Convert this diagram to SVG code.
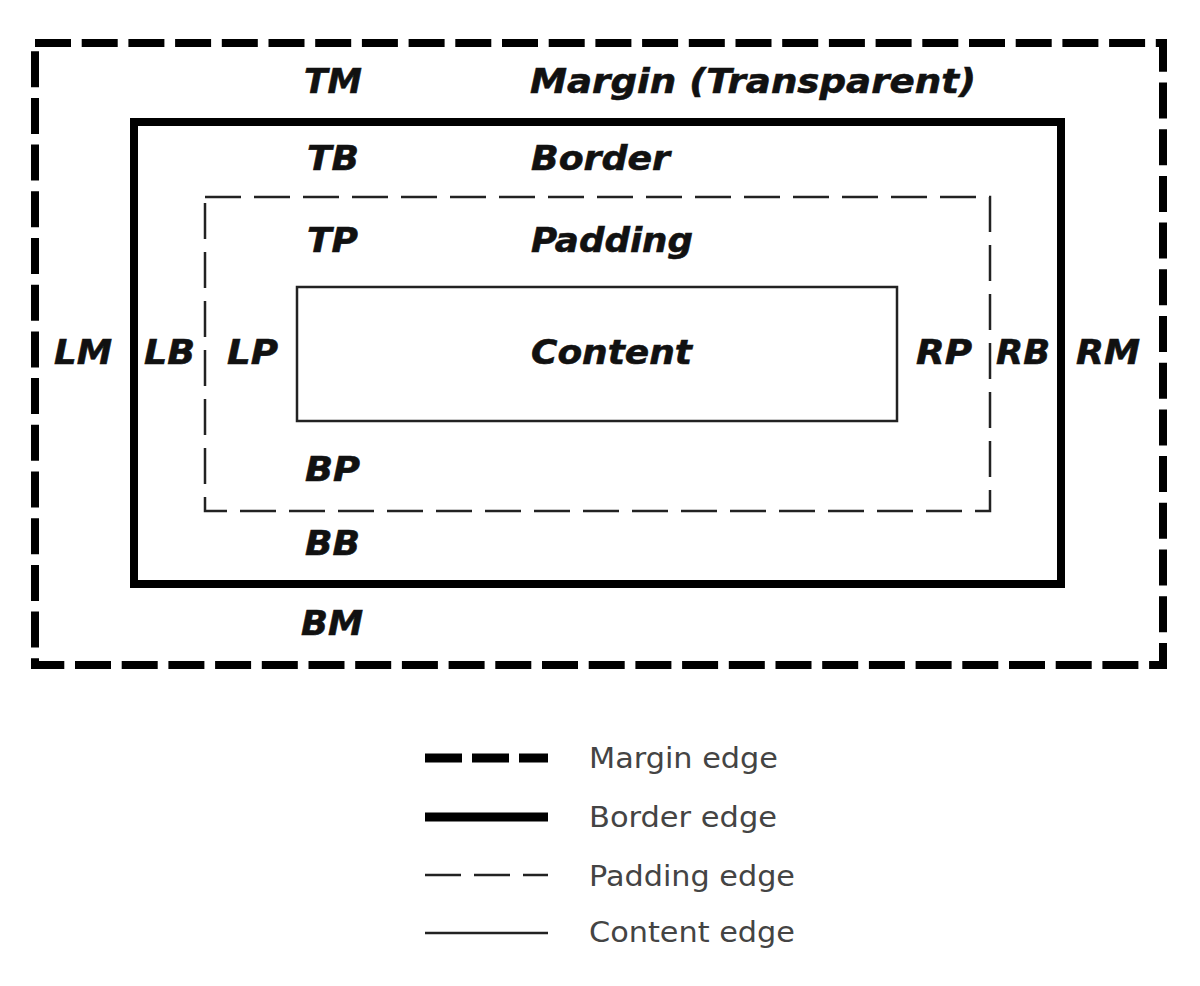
<svg xmlns="http://www.w3.org/2000/svg" width="1200" height="986" viewBox="0 0 1200 986">
  <style>
    .lbl { font-family: "DejaVu Sans", Verdana, "Liberation Sans", sans-serif; font-weight: bold; font-style: italic; font-size: 34px; fill: #111; stroke: #111; stroke-width: 0.6; }
    .leg { font-family: "DejaVu Sans", Verdana, "Liberation Sans", sans-serif; font-size: 27.5px; fill: #444; }
    .margin { fill: none; stroke: #000; stroke-width: 8; stroke-dasharray: 36 10.7; }
    .border { fill: none; stroke: #000; stroke-width: 8; }
    .padding { fill: none; stroke: #222; stroke-width: 2.5; stroke-dasharray: 36 13; }
    .content { fill: none; stroke: #222; stroke-width: 2.5; }
  </style>
  <rect width="1200" height="986" fill="#fff"/>

  <g id="margin-box">
    <rect class="margin" x="35" y="43" width="1128" height="622"/>
    <text class="lbl" x="304" y="93" textLength="58" lengthAdjust="spacingAndGlyphs">TM</text>
    <text class="lbl" x="530" y="93" textLength="446" lengthAdjust="spacingAndGlyphs">Margin (Transparent)</text>
    <text class="lbl" x="54" y="364" textLength="58" lengthAdjust="spacingAndGlyphs">LM</text>
    <text class="lbl" x="1076" y="364" textLength="64" lengthAdjust="spacingAndGlyphs">RM</text>
    <text class="lbl" x="301" y="635" textLength="62" lengthAdjust="spacingAndGlyphs">BM</text>
  </g>

  <g id="border-box">
    <rect class="border" x="134" y="122" width="927" height="462"/>
    <text class="lbl" x="307" y="170" textLength="52" lengthAdjust="spacingAndGlyphs">TB</text>
    <text class="lbl" x="531" y="170" textLength="139" lengthAdjust="spacingAndGlyphs">Border</text>
    <text class="lbl" x="144" y="364" textLength="51" lengthAdjust="spacingAndGlyphs">LB</text>
    <text class="lbl" x="996" y="364" textLength="54" lengthAdjust="spacingAndGlyphs">RB</text>
    <text class="lbl" x="305" y="555" textLength="55" lengthAdjust="spacingAndGlyphs">BB</text>
  </g>

  <g id="padding-box">
    <rect class="padding" x="205" y="197" width="785" height="314"/>
    <text class="lbl" x="307" y="252" textLength="51" lengthAdjust="spacingAndGlyphs">TP</text>
    <text class="lbl" x="531" y="252" textLength="162" lengthAdjust="spacingAndGlyphs">Padding</text>
    <text class="lbl" x="227" y="364" textLength="51" lengthAdjust="spacingAndGlyphs">LP</text>
    <text class="lbl" x="916" y="364" textLength="56" lengthAdjust="spacingAndGlyphs">RP</text>
    <text class="lbl" x="305" y="481" textLength="55" lengthAdjust="spacingAndGlyphs">BP</text>
  </g>

  <g id="content-box">
    <rect class="content" x="297" y="287" width="600" height="134"/>
    <text class="lbl" x="531" y="364" textLength="161" lengthAdjust="spacingAndGlyphs">Content</text>
  </g>

  <g id="legend">
    <g id="legend-margin">
      <line x1="425" y1="758" x2="548" y2="758" stroke="#000" stroke-width="9" stroke-dasharray="37 10"/>
      <text class="leg" x="589" y="768" textLength="189" lengthAdjust="spacingAndGlyphs">Margin edge</text>
    </g>
    <g id="legend-border">
      <line x1="425" y1="817" x2="548" y2="817" stroke="#000" stroke-width="9"/>
      <text class="leg" x="589" y="827" textLength="188" lengthAdjust="spacingAndGlyphs">Border edge</text>
    </g>
    <g id="legend-padding">
      <line x1="425" y1="875" x2="548" y2="875" stroke="#222" stroke-width="2.5" stroke-dasharray="36 13"/>
      <text class="leg" x="589" y="886" textLength="206" lengthAdjust="spacingAndGlyphs">Padding edge</text>
    </g>
    <g id="legend-content">
      <line x1="425" y1="933" x2="548" y2="933" stroke="#222" stroke-width="2.5"/>
      <text class="leg" x="589" y="942" textLength="206" lengthAdjust="spacingAndGlyphs">Content edge</text>
    </g>
  </g>
</svg>
